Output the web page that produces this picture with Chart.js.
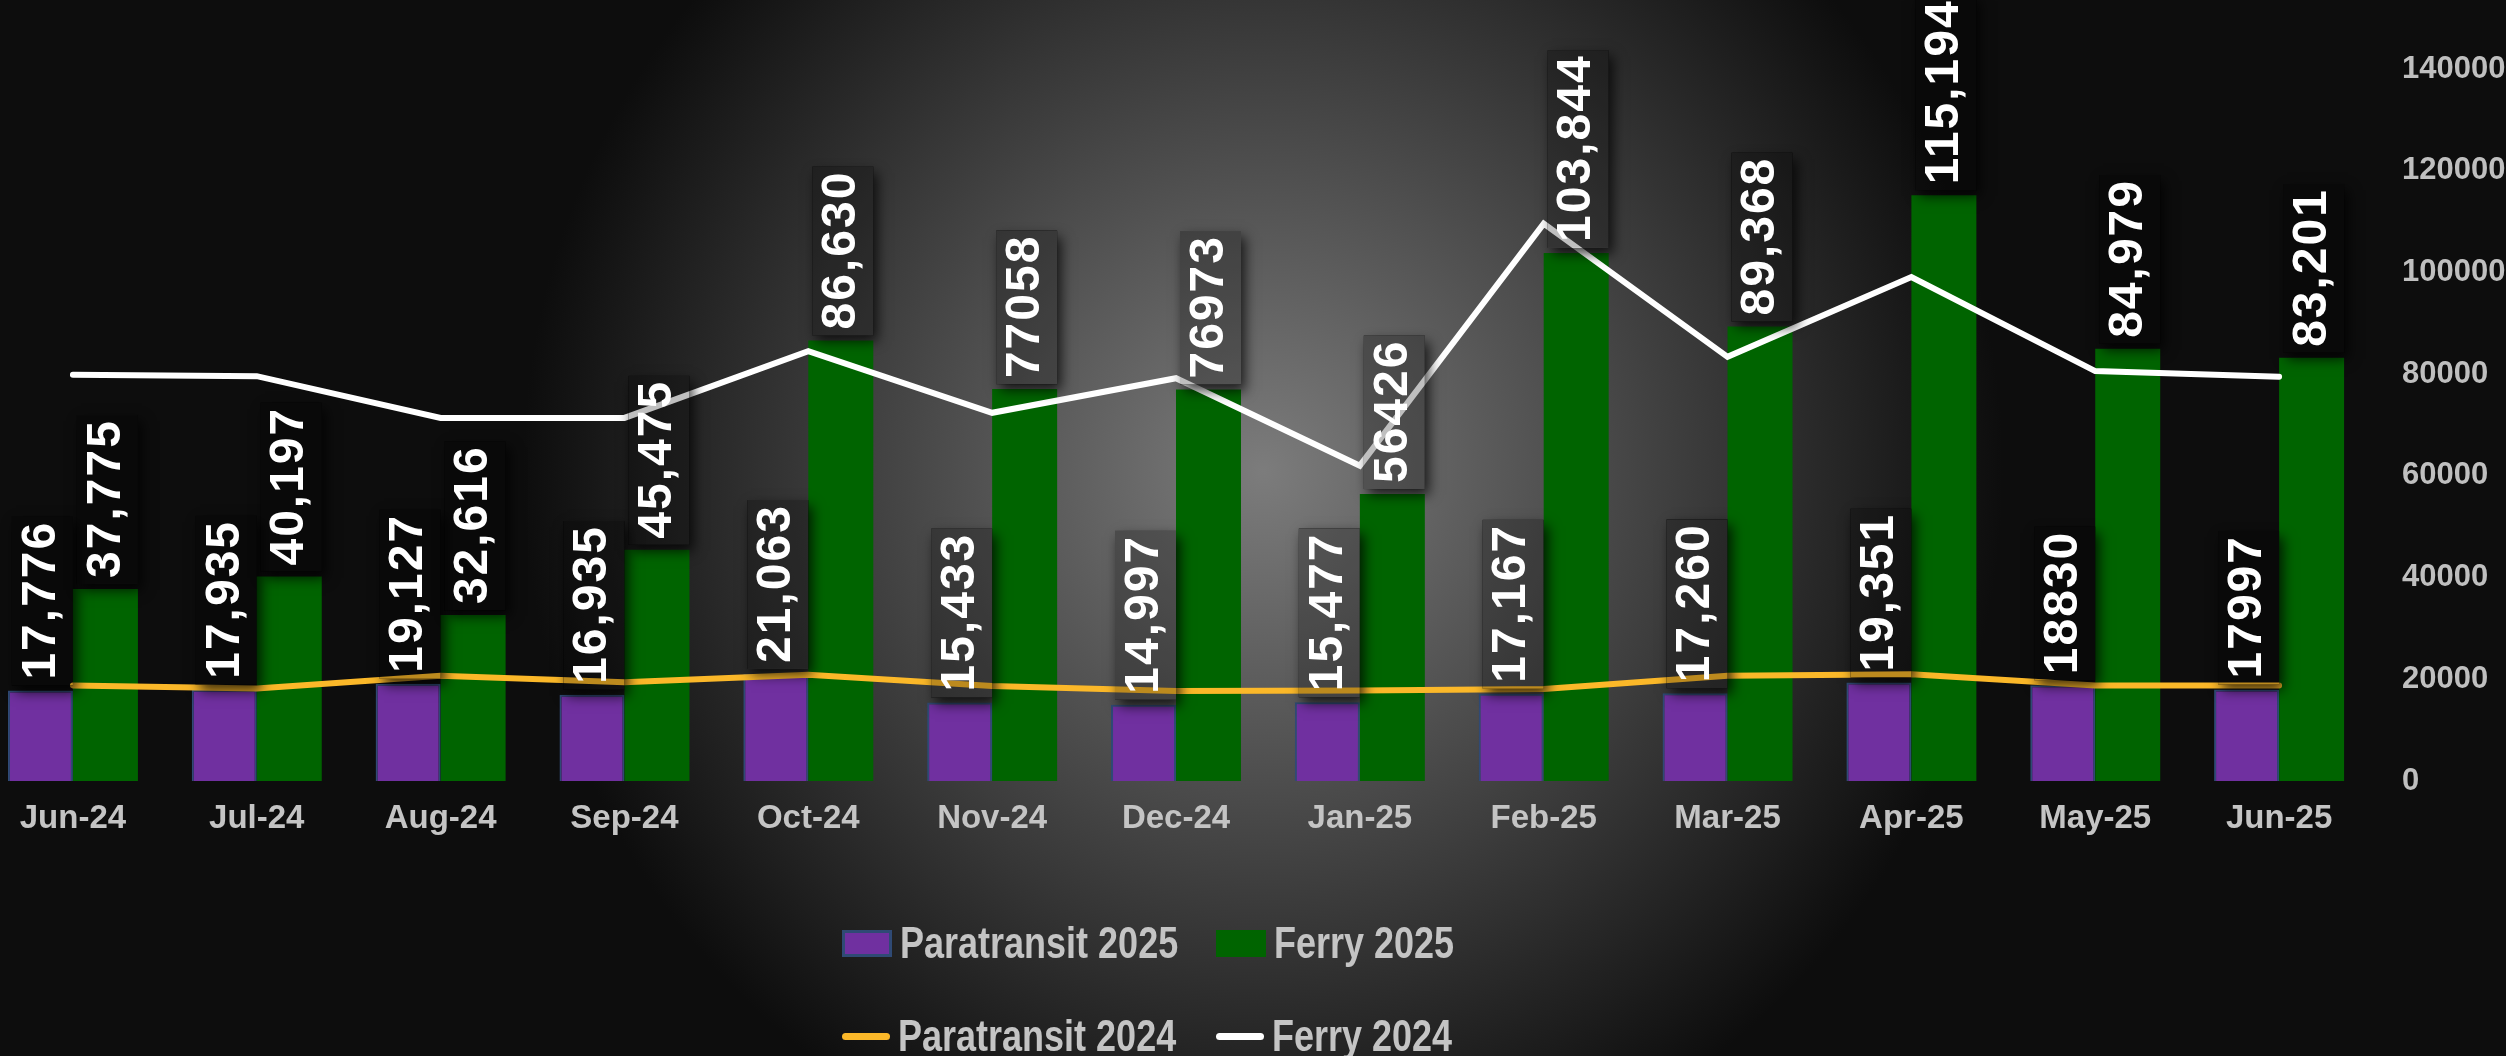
<!DOCTYPE html>
<html>
<head>
<meta charset="utf-8">
<script src="https://cdn.jsdelivr.net/npm/chart.js@4.4.1/dist/chart.umd.min.js"></script>
<style>
  html, body { margin: 0; padding: 0; background: #0d0d0d; overflow: hidden; }
  body { width: 2506px; height: 1056px; position: relative; }
  #myChart { position: absolute; left: -19px; top: 0; }
  .item {
    position: absolute; height: 60px; display: flex; align-items: center; white-space: nowrap;
    font: bold 45px "Liberation Sans", Arial, sans-serif;
    color: #c4c4c4;
  }
  .item .txt { display: inline-block; transform: scaleX(0.8); transform-origin: left center; }
  .mark-box { width: 44px; height: 21px; border: 3px solid; margin-right: 8px; }
  .mark-line { width: 48px; height: 7px; border-radius: 4px; margin-right: 8px; }
</style>
</head>
<body>
<canvas id="myChart" width="2525" height="1056"></canvas>
<div id="legend"></div>
<script>
// chart data
let months = ['Jun-24', 'Jul-24', 'Aug-24', 'Sep-24', 'Oct-24', 'Nov-24', 'Dec-24',
              'Jan-25', 'Feb-25', 'Mar-25', 'Apr-25', 'May-25', 'Jun-25'];
let paratransit2025 = [17776, 17935, 19127, 16935, 21063, 15433, 14997, 15477, 17167, 17260, 19351, 18830, 17997];
let ferry2025 = [37775, 40197, 32616, 45475, 86630, 77058, 76973, 56426, 103844, 89368, 115194, 84979, 83201];
let paratransit2024 = [18800, 18200, 20700, 19400, 20900, 18700, 17700, 17800, 18100, 20700, 21000, 18800, 18800];
let ferry2024 = [79900, 79600, 71400, 71400, 84500, 72400, 79200, 62000, 109600, 83400, 99100, 80600, 79500];
// data labels shown without thousands separator
let paraPlain = ['May-25', 'Jun-25'];
let ferryPlain = ['Nov-24', 'Dec-24', 'Jan-25'];

let sans = '"Liberation Sans", Arial, sans-serif';

function labelText(v, month, plain) {
    return plain.includes(month) ? String(v) : v.toLocaleString('en-US');
}

const bgPlugin = {
    id: 'bg',
    beforeDraw(chart) {
        const c = chart.ctx;
        c.save();
        c.fillStyle = '#0d0d0d';
        c.fillRect(0, 0, chart.width, chart.height);
        const g = c.createRadialGradient(1282, 471, 0, 1282, 471, 740);
        g.addColorStop(0, '#7c7c7c');
        g.addColorStop(1, '#0d0d0d');
        c.fillStyle = g;
        c.fillRect(0, 0, chart.width, chart.height);
        c.restore();
    }
};

const barLabels = {
    id: 'barLabels',
    afterDatasetsDraw(chart) {
        const c = chart.ctx;
        [0, 1].forEach(di => {
            const plain = di === 0 ? paraPlain : ferryPlain;
            const values = chart.data.datasets[di].data;
            chart.getDatasetMeta(di).data.forEach((bar, i) => {
                const text = labelText(values[i], months[i], plain);
                c.save();
                c.font = 'bold 48px ' + sans;
                c.letterSpacing = '2px';
                const tw = c.measureText(text).width;
                const textBottom = bar.y - 11;
                const bx = bar.x - bar.width / 2 + 4;
                const bw = bar.width - 4;
                const by = textBottom - tw - 4;
                const bh = bar.y - 5 - by;
                // shadow outside the box only
                c.save();
                c.beginPath();
                c.rect(0, 0, chart.width, chart.height);
                c.rect(bx, by, bw, bh);
                c.clip('evenodd');
                c.shadowColor = 'rgba(0,0,0,0.75)';
                c.shadowBlur = 12;
                c.shadowOffsetX = 4;
                c.shadowOffsetY = 6;
                c.fillStyle = '#000';
                c.fillRect(bx, by, bw, bh);
                c.restore();
                c.fillStyle = 'rgba(0,0,0,0.25)';
                c.fillRect(bx, by, bw, bh);
                c.translate(bar.x + 1, textBottom);
                c.rotate(-Math.PI / 2);
                c.fillStyle = '#ffffff';
                c.textAlign = 'left';
                c.textBaseline = 'middle';
                c.fillText(text, 0, 0);
                c.restore();
            });
        });
    }
};

let ctx = document.querySelector('#myChart').getContext('2d');
let myChart = new Chart(ctx, {
    type: 'bar',
    data: {
        labels: months,
        datasets: [{
            label: 'Paratransit 2025',
            data: paratransit2025,
            backgroundColor: '#7030a0',
            borderColor: '#2f4a75',
            borderWidth: 2,
            order: 1
        }, {
            label: 'Ferry 2025',
            data: ferry2025,
            backgroundColor: '#006400',
            borderColor: '#006400',
            borderWidth: 0,
            order: 1
        }, {
            type: 'line',
            label: 'Paratransit 2024',
            data: paratransit2024,
            borderColor: '#fbb829',
            backgroundColor: '#fbb829',
            borderWidth: 6,
            borderCapStyle: 'round',
            pointRadius: 0,
            tension: 0,
            fill: false,
            order: 0
        }, {
            type: 'line',
            label: 'Ferry 2024',
            data: ferry2024,
            borderColor: '#ffffff',
            backgroundColor: '#ffffff',
            borderWidth: 6,
            borderCapStyle: 'round',
            pointRadius: 0,
            tension: 0,
            fill: false,
            order: 0
        }]
    },
    options: {
        responsive: false,
        animation: false,
        categoryPercentage: 0.707,
        barPercentage: 1.0,
        layout: { padding: { top: 69, left: 0, right: 0, bottom: 0 } },
        scales: {
            x: {
                grid: { display: false, drawTicks: false },
                border: { display: false },
                ticks: {
                    color: '#c4c4c4',
                    font: { family: sans, size: 33, weight: 'bold' },
                    padding: 18,
                    maxRotation: 0,
                    autoSkip: false
                },
                afterFit(scale) { scale.height = 1056 - 781; }
            },
            y: {
                position: 'right',
                min: 0,
                max: 140000,
                grid: { display: false, drawTicks: false },
                border: { display: false },
                ticks: {
                    stepSize: 20000,
                    color: '#bfbfbf',
                    font: { family: sans, size: 31, weight: 'bold' },
                    padding: 31,
                    callback: v => String(v)
                },
                afterFit(scale) { scale.width = 135; }
            }
        },
        plugins: {
            legend: { display: false },
            tooltip: { enabled: false }
        }
    },
    plugins: [bgPlugin, barLabels]
});

// legend, two rows of two
let legendCols = [842, 1216];
let legendRows = [943, 1036];
let legendEl = document.getElementById('legend');
myChart.data.datasets.forEach((ds, i) => {
    const item = document.createElement('div');
    item.className = 'item';
    item.style.left = legendCols[i % 2] + 'px';
    item.style.top = (legendRows[Math.floor(i / 2)] - 30) + 'px';
    const mark = document.createElement('span');
    if (ds.type === 'line') {
        mark.className = 'mark-line';
        mark.style.background = ds.borderColor;
    } else {
        mark.className = 'mark-box';
        mark.style.background = ds.backgroundColor;
        mark.style.borderColor = ds.borderColor;
    }
    const txt = document.createElement('span');
    txt.className = 'txt';
    txt.textContent = ds.label;
    item.appendChild(mark);
    item.appendChild(txt);
    legendEl.appendChild(item);
});
</script>
</body>
</html>
